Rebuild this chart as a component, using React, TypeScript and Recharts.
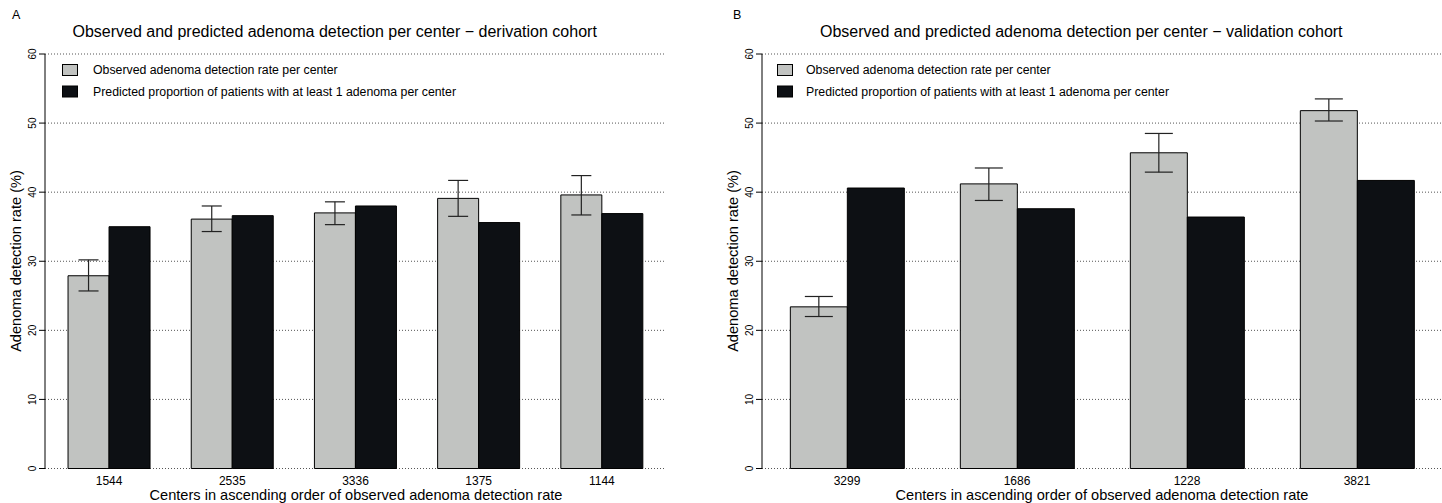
import React from 'react';
import { BarChart, Bar, XAxis, YAxis, CartesianGrid, ErrorBar } from 'recharts';

const centersA = ['1544', '2535', '3336', '1375', '1144'];
const observedA = [27.9, 36.1, 37.0, 39.1, 39.6];
const observedLowA = [25.7, 34.3, 35.3, 36.5, 36.7];
const observedHighA = [30.2, 38.0, 38.6, 41.7, 42.4];
const predictedA = [35.0, 36.6, 38.0, 35.6, 36.9];

const centersB = ['3299', '1686', '1228', '3821'];
const observedB = [23.4, 41.2, 45.7, 51.8];
const observedLowB = [22.0, 38.8, 42.9, 50.3];
const observedHighB = [24.9, 43.5, 48.5, 53.5];
const predictedB = [40.6, 37.6, 36.4, 41.7];

const yTicks = [0, 10, 20, 30, 40, 50, 60];

const FONT = '"Liberation Sans", Arial, Helvetica, sans-serif';
const GREY = '#c1c3c1';
const DARK = '#0d1014';

const buildRows = (centers: string[], obs: number[], lo: number[], hi: number[], pred: number[]) =>
  centers.map((center, i) => ({
    center,
    observed: obs[i],
    predicted: pred[i],
    err: [+(obs[i] - lo[i]).toFixed(2), +(hi[i] - obs[i]).toFixed(2)],
  }));

const dataA = buildRows(centersA, observedA, observedLowA, observedHighA, predictedA);
const dataB = buildRows(centersB, observedB, observedLowB, observedHighB, predictedB);

const XTick = (props: any) => {
  const { x, y, payload } = props;
  return (
    <text x={x} y={y} dy="0.71em" textAnchor="middle" fontSize={12} fontFamily={FONT} fill="#000">
      {payload.value}
    </text>
  );
};

const YTick = (props: any) => {
  const { x, y, payload } = props;
  const bx = x - 1;
  return (
    <text x={bx} y={y} transform={`rotate(-90 ${bx} ${y})`} textAnchor="middle" fontSize={10} fontFamily={FONT} fill="#000">
      {payload.value}
    </text>
  );
};

interface PanelProps {
  data: any[];
  left: number;
  width: number;
  yAxisWidth: number;
  rightMargin: number;
  capWidth: number;
  padX: number;
}

const Panel: React.FC<PanelProps> = ({ data, left, width, yAxisWidth, rightMargin, capWidth, padX }) => (
  <div style={{ position: 'absolute', left, top: 0 }}>
    <BarChart
      width={width}
      height={503}
      data={data}
      margin={{ top: 54, right: rightMargin, bottom: 0, left: 0 }}
      barCategoryGap="16.67%"
      barGap={0}
    >
      <CartesianGrid vertical={false} stroke="#555" strokeDasharray="1 2" />
      <XAxis
        dataKey="center"
        axisLine={false}
        tickLine={false}
        height={34.5}
        interval={0}
        tick={<XTick />}
        padding={{ left: padX, right: padX }}
      />
      <YAxis
        domain={[0, 60]}
        ticks={yTicks}
        interval={0}
        width={yAxisWidth}
        axisLine={{ stroke: '#000' }}
        tickLine={{ stroke: '#000' }}
        tickSize={6}
        tick={<YTick />}
      />
      <Bar dataKey="observed" fill={GREY} stroke="#000" strokeWidth={1} isAnimationActive={false}>
        <ErrorBar dataKey="err" width={capWidth} stroke="#222" strokeWidth={1.2} direction="y" />
      </Bar>
      <Bar dataKey="predicted" fill={DARK} stroke="#000" strokeWidth={1} isAnimationActive={false} />
    </BarChart>
  </div>
);

const LegendBlock = ({ x, textX }: { x: number; textX: number }) => (
  <g fontFamily={FONT} fontSize={12.3} fill="#000">
    <rect x={x} y={64.5} width={15} height={11} fill={GREY} stroke="#000" />
    <text x={textX} y={74}>Observed adenoma detection rate per center</text>
    <rect x={x} y={86} width={15} height={11} fill={DARK} stroke="#000" />
    <text x={textX} y={95.5}>Predicted proportion of patients with at least 1 adenoma per center</text>
  </g>
);

export default function App() {
  return (
    <div style={{ position: 'absolute', left: 0, top: 0, width: 1442, height: 503, background: '#fff', overflow: 'hidden' }}>
      <Panel data={dataA} left={0} width={700} yAxisWidth={45} rightMargin={34} capWidth={10} padX={2.5} />
      <Panel data={dataB} left={700} width={742} yAxisWidth={62} rightMargin={0} capWidth={14} padX={0} />
      <svg width={1442} height={503} style={{ position: 'absolute', left: 0, top: 0, pointerEvents: 'none' }}>
        <g fontFamily={FONT} fill="#000">
          <text x={12} y={18.5} fontSize={12.5}>A</text>
          <text x={733} y={18.5} fontSize={12.5}>B</text>
          <text x={72.5} y={37} fontSize={16}>
            Observed and predicted adenoma detection per center − derivation cohort
          </text>
          <text x={820} y={37} fontSize={16}>
            Observed and predicted adenoma detection per center − validation cohort
          </text>
          <text x={356} y={500} fontSize={14.6} textAnchor="middle">
            Centers in ascending order of observed adenoma detection rate
          </text>
          <text x={1102} y={500} fontSize={14.6} textAnchor="middle">
            Centers in ascending order of observed adenoma detection rate
          </text>
          <text x={21} y={261} fontSize={14.6} textAnchor="middle" transform="rotate(-90 21 261)">
            Adenoma detection rate (%)
          </text>
          <text x={738} y={261} fontSize={14.6} textAnchor="middle" transform="rotate(-90 738 261)">
            Adenoma detection rate (%)
          </text>
        </g>
        <LegendBlock x={62.5} textX={93} />
        <LegendBlock x={777.5} textX={806} />
      </svg>
    </div>
  );
}
